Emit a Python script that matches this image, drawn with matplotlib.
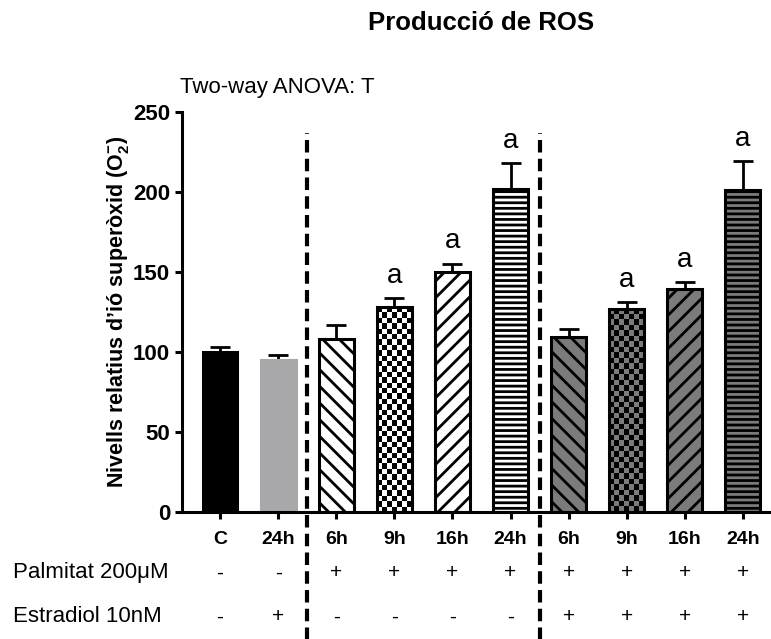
import matplotlib
matplotlib.use("Agg")
import matplotlib.pyplot as plt
import numpy as np
from matplotlib.colors import ListedColormap

plt.rcParams['font.family'] = ['Liberation Sans', 'DejaVu Sans']
plt.rcParams['mathtext.fontset'] = 'custom'
plt.rcParams['mathtext.rm'] = 'Liberation Sans:bold'
plt.rcParams['mathtext.bf'] = 'Liberation Sans:bold'
plt.rcParams['hatch.linewidth'] = 2.0

# data
labels = ["C", "24h", "6h", "9h", "16h", "24h", "6h", "9h", "16h", "24h"]
means = [100, 95, 108, 128, 150, 202, 109, 127, 139, 201]
sem = [3, 3, 8.5, 5.5, 5, 16, 5, 4, 4.5, 18]
signif = ["", "", "", "a", "a", "a", "", "a", "a", "a"]
palmitat = ["-", "-", "+", "+", "+", "+", "+", "+", "+", "+"]
estradiol = ["-", "+", "-", "-", "-", "-", "+", "+", "+", "+"]
row_names = ["Palmitat 200\u03bcM", "Estradiol 10nM"]

# styles per bar
dark = "#7b7b7b"
faces = ["black", "#a8a8aa", "white", "white", "white", "white", dark, dark, dark, dark]
edges = ["black", "#a8a8aa", "black", "black", "black", "black", "black", "black", "black", "black"]
hatches = [None, None, "\\\\", "checker", "//", "---", "\\\\", "checker", "//", "---"]

fig = plt.figure(figsize=(7.71, 6.39), dpi=100)
ax = fig.add_axes([0.236, 0.199, 0.763, 0.626])

x = np.arange(len(means))
bars = ax.bar(x, means, width=0.6, color=faces, edgecolor=edges, linewidth=2.2, zorder=2)

for b, h, fc in zip(bars, hatches, faces):
    if h == "checker":
        # checkerboard fill clipped to the bar
        b.set_facecolor("none")
        x0, w, hgt = b.get_x(), b.get_width(), b.get_height()
        nrows = int(round(hgt / 3.4))
        board = np.indices((nrows, 7)).sum(0) % 2
        im = ax.imshow(board, extent=(x0, x0 + w, 0, hgt), origin="lower",
                       cmap=ListedColormap([fc, "black"]), aspect="auto",
                       interpolation="nearest", zorder=1.5)
        im.set_clip_path(b)
    elif h:
        b.set_hatch(h)

ax.errorbar(x, means, yerr=[np.zeros(len(sem)), sem], fmt="none", ecolor="black",
            elinewidth=2, capsize=7, capthick=2, zorder=1)

for xi, m, s, t in zip(x, means, sem, signif):
    if t:
        ax.text(xi, m + s + 14, t, ha="center", va="center", fontsize=20)

ax.set_xlim(-0.655, 9.47)
ax.set_ylim(0, 250)
ax.set_yticks(np.arange(0, 251, 50))
ax.set_xticks(x)
ax.set_xticklabels(labels, fontweight="bold")
for lab in ax.get_yticklabels():
    lab.set_fontweight("bold")
ax.tick_params(width=2.2, length=5, labelsize=16)
ax.tick_params(axis="x", labelsize=14, pad=9)
for side in ["top", "right"]:
    ax.spines[side].set_visible(False)
for side in ["left", "bottom"]:
    ax.spines[side].set_linewidth(2.2)

ax.set_ylabel("Nivells relatius d\u2019i\u00f3 super\u00f2xid (O$_2^{-}$)", fontsize=15.5, fontweight="bold")
ax.yaxis.set_label_coords(-0.087, 0.5)

# group dividers
for xd in [1.5, 5.5]:
    ax.plot([xd, xd], [-82, 237], color="black", lw=3, linestyle=(0, (3, 1.5)), clip_on=False, zorder=3)

# treatment table
trans = ax.get_xaxis_transform()
for ry, name, signs in zip([-0.1525, -0.2625], row_names, [palmitat, estradiol]):
    fig.text(0.017, 0.199 + ry * 0.626, name, ha="left", va="center", fontsize=16)
    for xi, sg in zip(x, signs):
        ax.text(xi, ry, sg, transform=trans, ha="center", va="center", fontsize=15)

fig.text(481 / 771, 1 - 23 / 639, "Producci\u00f3 de ROS", ha="center", va="center",
         fontsize=18.5, fontweight="bold")
fig.text(180 / 771, 1 - 88 / 639, "Two-way ANOVA: T", ha="left", va="center", fontsize=16)

fig.savefig("out.png", dpi=100)
